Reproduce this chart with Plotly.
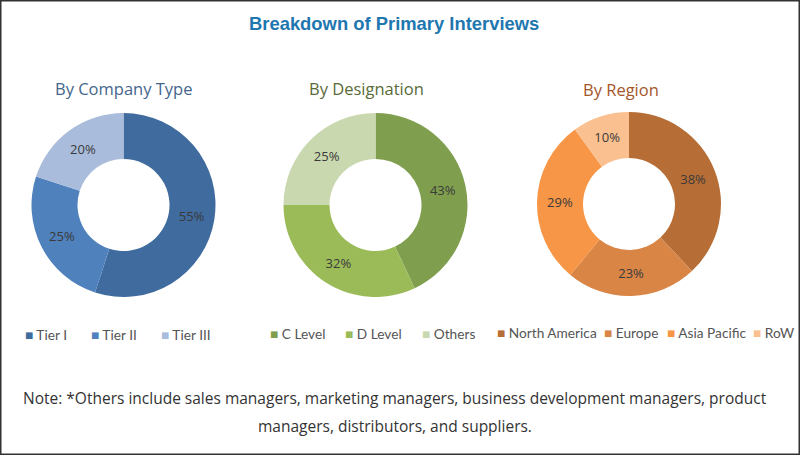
import plotly.graph_objects as go

W, H = 800, 455
company_labels = ["Tier I", "Tier II", "Tier III"]
company_values = [55, 25, 20]
company_colors = ["#3f6b9f", "#4f81bd", "#a9bcdb"]
designation_labels = ["C Level", "D Level", "Others"]
designation_values = [43, 32, 25]
designation_colors = ["#7f9f4f", "#9bbb59", "#c9d8ae"]
region_labels = ["North America", "Europe", "Asia Pacific", "RoW"]
region_values = [38, 23, 29, 10]
region_colors = ["#b76e36", "#d98546", "#f79646", "#fac090"]

def dom(cx, cy, r):
    return dict(x=[(cx - r) / W, (cx + r) / W], y=[1 - (cy + r) / H, 1 - (cy - r) / H])

fig = go.Figure()
groups = [
    (company_labels, company_values, company_colors, (123.5, 205, 92)),
    (designation_labels, designation_values, designation_colors, (375.5, 205, 92)),
    (region_labels, region_values, region_colors, (629, 204, 92)),
]
for labels, values, colors, (cx, cy, r) in groups:
    fig.add_trace(go.Pie(
        labels=labels, values=values, hole=0.5, sort=False, direction="clockwise", rotation=0,
        domain=dom(cx, cy, r), showlegend=False,
        marker=dict(colors=colors, line=dict(width=0)),
        texttemplate="%{value}%", textposition="inside",
        insidetextorientation="horizontal",
        textfont=dict(family="Open Sans", size=13, color="#3a3a3a"),
    ))

titles = [
    ("Breakdown of Primary Interviews", 394, 23, 18.4, "#1f77b0", "Liberation Sans", True),
    ("By Company Type", 123, 89, 16.5, "#44668c", "Open Sans", False),
    ("By Designation", 366, 89, 16.5, "#5a6b38", "Open Sans", False),
    ("By Region", 621, 90, 16.5, "#a5562a", "Open Sans", False),
    ("Note: *Others include sales managers, marketing managers, business development managers, product", 395, 398, 15.5, "#333333", "Open Sans", False),
    ("managers, distributors, and suppliers.", 395, 426, 15.5, "#333333", "Open Sans", False),
]
annotations = [
    dict(text=f"<b>{t}</b>" if b else t, x=x / W, y=1 - y / H, xref="paper", yref="paper",
         xanchor="center", yanchor="middle", showarrow=False,
         font=dict(size=s, color=c, family=f))
    for t, x, y, s, c, f, b in titles
]

legend_rows = [
    (company_labels, company_colors, [23, 89, 159], 334),
    (designation_labels, designation_colors, [268, 343, 420], 333),
    (region_labels, region_colors, [495, 602, 665, 751], 332),
]
for labels, colors, xs, y in legend_rows:
    for lab, col, x in zip(labels, colors, xs):
        annotations.append(dict(
            text=f'<span style="color:{col}">■</span> {lab}', x=x / W, y=1 - y / H,
            xref="paper", yref="paper", xanchor="left", yanchor="middle", showarrow=False,
            font=dict(size=13.7, color="#555555", family="Lato")))

fig.update_layout(
    width=W, height=H, margin=dict(l=0, r=0, t=0, b=0), paper_bgcolor="white",
    showlegend=False, annotations=annotations,
    shapes=[dict(type="rect", xref="paper", yref="paper", x0=0, x1=1, y0=0, y1=1,
                 line=dict(color="#333333", width=3))],
)
fig.write_html("out.html", config=dict(displayModeBar=False),
               post_script="document.body.style.margin='0';")
